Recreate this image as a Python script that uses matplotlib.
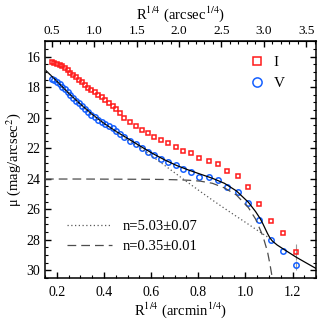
import matplotlib
matplotlib.use("Agg")
import matplotlib.pyplot as plt
from matplotlib.ticker import MultipleLocator

plt.rcParams["font.family"] = ["Liberation Serif", "DejaVu Serif"]
plt.rcParams["mathtext.fontset"] = "stix"

# %%
# Data
# R^(1/4) in arcmin^(1/4), surface brightness in mag/arcsec^2

r14 = [0.179, 0.190, 0.201, 0.212, 0.223, 0.235, 0.246, 0.257, 0.269, 0.281,
       0.293, 0.307, 0.320, 0.333, 0.347, 0.362, 0.376, 0.391, 0.406, 0.421,
       0.437, 0.452, 0.468, 0.487, 0.510, 0.534, 0.560, 0.586, 0.613, 0.642,
       0.672, 0.704, 0.735, 0.770, 0.805, 0.844, 0.884, 0.924, 0.967, 1.012,
       1.058, 1.107, 1.160, 1.213]

mu_I = [16.33, 16.38, 16.45, 16.53, 16.63, 16.76, 16.90, 17.05, 17.20, 17.36,
        17.52, 17.69, 17.85, 18.02, 18.18, 18.34, 18.50, 18.67, 18.84, 19.02,
        19.20, 19.42, 19.70, 20.00, 20.28, 20.52, 20.78, 21.02, 21.24, 21.47,
        21.68, 21.91, 22.17, 22.34, 22.67, 22.81, 23.02, 23.47, 23.82, 24.54,
        25.63, 26.75, 27.56, 28.80]

mu_V = [17.46, 17.54, 17.65, 17.79, 17.96, 18.14, 18.32, 18.50, 18.69, 18.88,
        19.06, 19.24, 19.43, 19.61, 19.80, 19.97, 20.12, 20.28, 20.43, 20.56,
        20.70, 20.88, 21.08, 21.29, 21.50, 21.72, 22.00, 22.27, 22.46, 22.68,
        22.90, 23.09, 23.33, 23.53, 23.88, 23.90, 24.07, 24.54, 24.87, 25.58,
        26.73, 27.99, 28.76, 29.69]

# error bars only on the outermost point
err_I = [0.0] * 43 + [0.5]
err_V = [0.0] * 43 + [0.3]

# model curves
fit_x = [0.150, 0.200, 0.251, 0.302, 0.352, 0.403, 0.454, 0.505, 0.556, 0.606,
         0.657, 0.708, 0.759, 0.809, 0.860, 0.911, 0.962, 1.013, 1.043, 1.063,
         1.074, 1.094, 1.104, 1.114, 1.135, 1.165, 1.216, 1.267, 1.307]
total = [16.85, 17.60, 18.40, 19.13, 19.80, 20.40, 20.92, 21.40, 21.88, 22.34,
         22.76, 23.13, 23.43, 23.70, 23.97, 24.30, 24.80, 25.55, 26.15, 26.62,
         26.95, 27.60, 27.88, 28.08, 28.35, 28.65, 29.15, 29.60, 29.95]

sersic_x = [0.150, 0.200, 0.251, 0.302, 0.352, 0.403, 0.454, 0.505, 0.556, 0.606,
            0.657, 0.708, 0.759, 0.809, 0.860, 0.911, 0.962, 1.013, 1.063, 1.104]
sersic_mu = [16.85, 17.60, 18.40, 19.13, 19.80, 20.42, 20.95, 21.48, 22.00, 22.55,
             23.12, 23.70, 24.28, 24.84, 25.40, 25.94, 26.47, 26.99, 27.51, 27.92]

disk_x = [0.150, 0.300, 0.450, 0.606, 0.657, 0.708, 0.759, 0.809, 0.860, 0.911,
          0.962, 1.013, 1.043, 1.074, 1.094, 1.104, 1.114]
disk_mu = [24.02, 24.02, 24.03, 24.04, 24.05, 24.07, 24.10, 24.16, 24.30, 24.60,
           25.07, 25.90, 26.64, 27.75, 28.80, 29.60, 30.50]

labels = ["n=5.03\u00b10.07", "n=0.35\u00b10.01"]

# %%
fig = plt.figure(figsize=(3.19, 3.19), dpi=100)
ax = fig.add_axes([0.141, 0.129, 0.850, 0.741])

ax.errorbar(r14[-1:], mu_I[-1:], yerr=err_I[-1:], fmt="none", ecolor="0.6",
            elinewidth=0.8, zorder=1)
ax.errorbar(r14[-1:], mu_V[-1:], yerr=err_V[-1:], fmt="none", ecolor="0.6",
            elinewidth=0.8, zorder=1)
hI, = ax.plot(r14, mu_I, ls="none", marker="s", ms=3.5, mfc="none", mec="#ff1a1a",
              mew=1.1, zorder=2)
hV, = ax.plot(r14, mu_V, ls="none", marker="o", ms=3.9, mfc="none", mec="#1560ff",
              mew=1.1, zorder=2)

ax.plot(fit_x, total, color="black", lw=0.9, zorder=3)
hs, = ax.plot(sersic_x, sersic_mu, color="0.35", lw=0.9, ls=(0, (1, 2)), zorder=3)
hd, = ax.plot(disk_x, disk_mu, color="0.3", lw=0.9, ls=(0, (7, 4)), zorder=3)

ax.set_xlim(0.15, 1.3)
ax.set_ylim(30.5, 15)
ax.xaxis.set_major_locator(MultipleLocator(0.2))
ax.xaxis.set_minor_locator(MultipleLocator(0.05))
ax.yaxis.set_major_locator(MultipleLocator(2))
ax.yaxis.set_minor_locator(MultipleLocator(0.5))
ax.tick_params(which="both", direction="in", right=True, labelsize=10)
ax.tick_params(which="major", length=4, width=1)
ax.tick_params(which="minor", length=2.2, width=0.8)
ax.tick_params(axis="x", which="both", top=False, pad=6)
for s in ax.spines.values():
    s.set_linewidth(1.1)

ax.set_xlabel(r"R$^{1/4}$ (arcmin$^{1/4}$)", fontsize=10.5, labelpad=0.5)
ax.set_ylabel("\u03bc (mag/arcsec$^{2}$)", fontsize=10.5, labelpad=2)

k = 60 ** 0.25
top = ax.secondary_xaxis("top", functions=(lambda x: x * k, lambda x: x / k))
top.xaxis.set_major_locator(MultipleLocator(0.5))
top.xaxis.set_minor_locator(MultipleLocator(0.1))
top.tick_params(which="both", direction="in", labelsize=9.5)
top.tick_params(which="major", length=4, width=1)
top.tick_params(which="minor", length=2.2, width=0.8)
top.set_xlabel(r"R$^{1/4}$ (arcsec$^{1/4}$)", fontsize=10.5, labelpad=4)

leg1 = ax.legend([hI, hV], ["I", "V"], loc="upper left", frameon=False,
                 fontsize=11, handlelength=1.0, handletextpad=0.55,
                 markerscale=1.7, bbox_to_anchor=(0.755, 0.942),
                 borderaxespad=0, borderpad=0, labelspacing=0.5)
ax.add_artist(leg1)
ax.legend([hs, hd], labels, loc="lower left", frameon=False, fontsize=10.5,
          handlelength=3.1, handletextpad=0.7, bbox_to_anchor=(0.06, 0.08),
          labelspacing=0.45, borderaxespad=0)

fig.savefig("out.png", dpi=100)
